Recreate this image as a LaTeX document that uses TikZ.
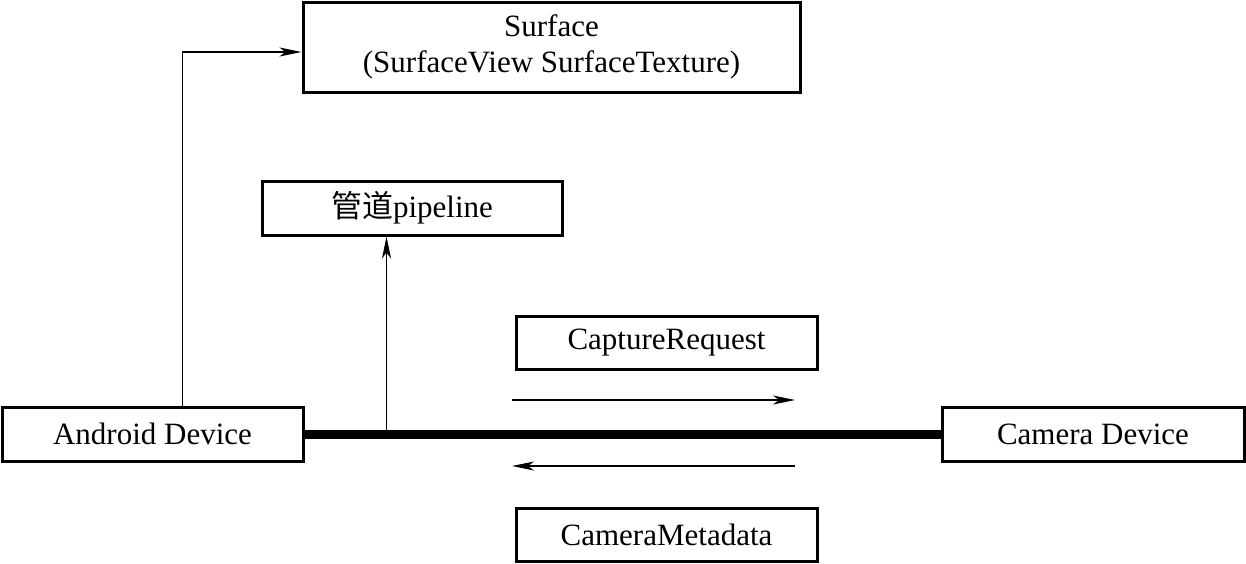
\documentclass[tikz,border=0pt]{standalone}
\usepackage{fontspec}
\setmainfont{Liberation Serif}
\newfontfamily\cjk{Noto Sans CJK SC}
\usetikzlibrary{arrows.meta,calc}
\begin{document}
\begin{tikzpicture}[x=0.5pt,y=-0.5pt,
  box/.style={draw,line width=1.5pt,inner sep=0pt,align=center,
    font=\fontsize{15.5}{18}\selectfont},
  arr/.style={line width=0.75pt,-{Stealth[length=11pt,width=4.5pt,inset=3pt]}},
  thin/.style={line width=0.75pt}]
\useasboundingbox (0,0) rectangle (1246,563);
\node[box,minimum width=248.5pt,minimum height=45pt] (surface) at (551.5,47)
  {Surface\\(SurfaceView SurfaceTexture)};
\node[box,minimum width=150pt,minimum height=27pt] (pipe) at (412,208)
  {{\cjk 管道}pipeline};
\node[box,minimum width=150.5pt,minimum height=26.5pt] (capture) at (666.5,342.5)
  {CaptureRequest};
\node[box,minimum width=150.5pt,minimum height=26.5pt] (meta) at (666.5,534.5)
  {CameraMetadata};
\node[box,minimum width=150.5pt,minimum height=27pt] (android) at (152.5,434)
  {Android Device};
\node[box,minimum width=151pt,minimum height=27pt] (camera) at (1093,434)
  {Camera Device};
\draw[line width=4.5pt] (android.east) -- (camera.west);
\draw[arr] ([xshift=91pt]android.north west) |- ([yshift=-2.5pt]surface.west);
\coordinate (tap) at ([xshift=41pt]android.east);
\draw[arr] (tap) -- (tap |- pipe.south);
\coordinate (r1) at (512,400);
\coordinate (r2) at (795,400);
\coordinate (l1) at (795,466);
\coordinate (l2) at (512,466);
\draw[arr] (r1) -- (r2);
\draw[arr] (l1) -- (l2);
\end{tikzpicture}
\end{document}
